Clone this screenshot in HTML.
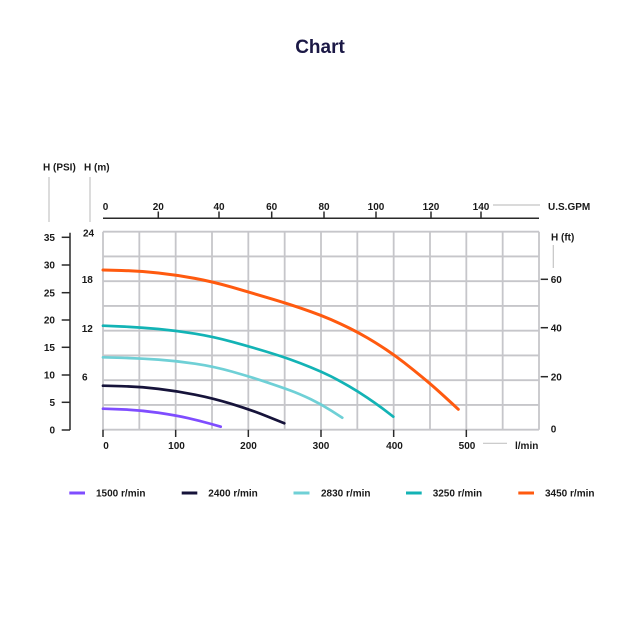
<!DOCTYPE html>
<html>
<head>
<meta charset="utf-8">
<style>
  html,body{margin:0;padding:0;background:#fff;}
  svg{display:block;}
  text{font-family:"Liberation Sans",Arial,sans-serif;font-weight:bold;fill:#1a1a1a;}
</style>
</head>
<body>
<svg width="640" height="640" viewBox="0 0 640 640" xmlns="http://www.w3.org/2000/svg">
  <rect width="640" height="640" fill="#fff"/>
  <!-- Title -->
  <text x="320" y="53" text-anchor="middle" font-size="19" style="fill:#1b1845">Chart</text>

  <!-- Axis titles -->
  <text x="43" y="170.5" font-size="10">H (PSI)</text>
  <text x="84" y="170.5" font-size="10">H (m)</text>
  <line x1="49" y1="177" x2="49" y2="222" stroke="#c4c4c4" stroke-width="1.2"/>
  <line x1="90" y1="177" x2="90" y2="222" stroke="#c4c4c4" stroke-width="1.2"/>

  <!-- Grid -->
  <g stroke="#c6c6ca" stroke-width="1.8" fill="none">
    <line x1="103" y1="231.7" x2="103" y2="429.7"/>
    <line x1="139.33" y1="231.7" x2="139.33" y2="429.7"/>
    <line x1="175.67" y1="231.7" x2="175.67" y2="429.7"/>
    <line x1="212" y1="231.7" x2="212" y2="429.7"/>
    <line x1="248.33" y1="231.7" x2="248.33" y2="429.7"/>
    <line x1="284.67" y1="231.7" x2="284.67" y2="429.7"/>
    <line x1="321" y1="231.7" x2="321" y2="429.7"/>
    <line x1="357.33" y1="231.7" x2="357.33" y2="429.7"/>
    <line x1="393.67" y1="231.7" x2="393.67" y2="429.7"/>
    <line x1="430" y1="231.7" x2="430" y2="429.7"/>
    <line x1="466.33" y1="231.7" x2="466.33" y2="429.7"/>
    <line x1="502.67" y1="231.7" x2="502.67" y2="429.7"/>
    <line x1="539" y1="231.7" x2="539" y2="429.7"/>
    <line x1="103" y1="231.7" x2="539" y2="231.7"/>
    <line x1="103" y1="256.45" x2="539" y2="256.45"/>
    <line x1="103" y1="281.2" x2="539" y2="281.2"/>
    <line x1="103" y1="305.95" x2="539" y2="305.95"/>
    <line x1="103" y1="330.7" x2="539" y2="330.7"/>
    <line x1="103" y1="355.45" x2="539" y2="355.45"/>
    <line x1="103" y1="380.2" x2="539" y2="380.2"/>
    <line x1="103" y1="404.95" x2="539" y2="404.95"/>
    <line x1="103" y1="429.7" x2="539" y2="429.7"/>
  </g>

  <!-- Top axis (U.S.GPM) -->
  <g stroke="#2a2a2a" stroke-width="1.5">
    <line x1="103" y1="218.3" x2="539" y2="218.3"/>
    <line x1="158.3" y1="218.3" x2="158.3" y2="211.5"/>
    <line x1="219" y1="218.3" x2="219" y2="211.5"/>
    <line x1="271.7" y1="218.3" x2="271.7" y2="211.5"/>
    <line x1="324" y1="218.3" x2="324" y2="211.5"/>
    <line x1="376" y1="218.3" x2="376" y2="211.5"/>
    <line x1="431" y1="218.3" x2="431" y2="211.5"/>
    <line x1="481" y1="218.3" x2="481" y2="211.5"/>
  </g>
  <g font-size="10" text-anchor="middle">
    <text x="105.5" y="210">0</text>
    <text x="158.3" y="210">20</text>
    <text x="219" y="210">40</text>
    <text x="271.7" y="210">60</text>
    <text x="324" y="210">80</text>
    <text x="376" y="210">100</text>
    <text x="431" y="210">120</text>
    <text x="481" y="210">140</text>
  </g>
  <line x1="493" y1="205" x2="540" y2="205" stroke="#c4c4c4" stroke-width="1.2"/>
  <text x="548" y="210" font-size="10">U.S.GPM</text>

  <!-- Bottom axis (l/min) -->
  <g stroke="#2a2a2a" stroke-width="1.5">
    <line x1="103" y1="429.7" x2="103" y2="437"/>
    <line x1="175.67" y1="429.7" x2="175.67" y2="437"/>
    <line x1="248.33" y1="429.7" x2="248.33" y2="437"/>
    <line x1="321" y1="429.7" x2="321" y2="437"/>
    <line x1="393.67" y1="429.7" x2="393.67" y2="437"/>
    <line x1="466.33" y1="429.7" x2="466.33" y2="437"/>
  </g>
  <g font-size="10" text-anchor="middle">
    <text x="106" y="449">0</text>
    <text x="176.5" y="449">100</text>
    <text x="248.5" y="449">200</text>
    <text x="321" y="449">300</text>
    <text x="394.5" y="449">400</text>
    <text x="467" y="449">500</text>
  </g>
  <line x1="483" y1="443.3" x2="507" y2="443.3" stroke="#c4c4c4" stroke-width="1.2"/>
  <text x="515" y="449" font-size="10">l/min</text>

  <!-- Left PSI axis -->
  <g stroke="#2a2a2a" stroke-width="1.5">
    <line x1="70" y1="232.7" x2="70" y2="430"/>
    <line x1="61.7" y1="237.3" x2="70" y2="237.3"/>
    <line x1="61.7" y1="265" x2="70" y2="265"/>
    <line x1="61.7" y1="292.7" x2="70" y2="292.7"/>
    <line x1="61.7" y1="320" x2="70" y2="320"/>
    <line x1="61.7" y1="347.3" x2="70" y2="347.3"/>
    <line x1="61.7" y1="375" x2="70" y2="375"/>
    <line x1="61.7" y1="402.3" x2="70" y2="402.3"/>
    <line x1="61.7" y1="430" x2="70" y2="430"/>
  </g>
  <g font-size="10" text-anchor="end">
    <text x="55" y="241">35</text>
    <text x="55" y="268.7">30</text>
    <text x="55" y="296.4">25</text>
    <text x="55" y="323.7">20</text>
    <text x="55" y="351">15</text>
    <text x="55" y="378.7">10</text>
    <text x="55" y="406">5</text>
    <text x="55" y="433.7">0</text>
  </g>

  <!-- H (m) labels -->
  <g font-size="10">
    <text x="83" y="236.4">24</text>
    <text x="81.7" y="283">18</text>
    <text x="81.7" y="332">12</text>
    <text x="82" y="380.4">6</text>
  </g>

  <!-- Right H(ft) axis -->
  <text x="551" y="240.4" font-size="10">H (ft)</text>
  <line x1="553.3" y1="245" x2="553.3" y2="268" stroke="#c4c4c4" stroke-width="1.2"/>
  <g stroke="#2a2a2a" stroke-width="1.5">
    <line x1="540.7" y1="279.3" x2="548" y2="279.3"/>
    <line x1="540.7" y1="327.7" x2="548" y2="327.7"/>
    <line x1="540.7" y1="376.7" x2="548" y2="376.7"/>
  </g>
  <g font-size="10">
    <text x="550.7" y="283">60</text>
    <text x="550.7" y="331.4">40</text>
    <text x="550.7" y="380.4">20</text>
    <text x="550.7" y="432.7">0</text>
  </g>

  <!-- Curves -->
  <g fill="none" stroke-linecap="round" stroke-linejoin="round">
    <path stroke="#ff5a0f" stroke-width="3"
      d="M103,270 L121.5,270.5 Q140,271 158.35,273 Q176.7,275 194.85,278.35 Q213,281.7 231.5,287.1 Q250,292.5 265,296.9 Q280,301.3 290,304.55 Q300,307.8 310.85,311.65 Q321.7,315.5 330.85,319.5 Q340,323.5 349.15,328 Q358.3,332.5 367.65,338 Q377,343.5 386,349.5 Q395,355.5 404,362.5 Q413,369.5 422.35,377.25 Q431.7,385 438.35,391 Q445,397 451.65,403.15 L458.3,409.3"/>
    <path stroke="#13b3b5" stroke-width="2.7"
      d="M103,325.7 L121.5,326.5 Q140,327.3 158.35,329 Q176.7,330.7 195,333.7 Q213.3,336.7 231.65,341.7 Q250,346.7 265,351.25 Q280,355.8 290,359.4 Q300,363 310.85,367.35 Q321.7,371.7 330.85,376.35 Q340,381 349.15,386.35 Q358.3,391.7 367.15,397.6 Q376,403.5 384.65,410.1 L393.3,416.7"/>
    <path stroke="#6fd0d6" stroke-width="2.7"
      d="M103,357.3 L121.5,357.8 Q140,358.3 158.35,359.65 Q176.7,361 195,363.65 Q213.3,366.3 231.65,371.5 Q250,376.7 265,381.7 Q280,386.7 290,390.35 Q300,394 310.85,399.25 Q321.7,404.5 332,411.1 L342.3,417.7"/>
    <path stroke="#16133a" stroke-width="2.7"
      d="M103,385.7 L121.5,386.2 Q140,386.7 158.35,388.85 Q176.7,391 195,394.65 Q213.3,398.3 231.65,403.9 Q250,409.5 267.15,416.4 L284.3,423.3"/>
    <path stroke="#7f4dff" stroke-width="2.7"
      d="M103,408.7 L121.5,409.35 Q140,410 158.35,412.75 Q176.7,415.5 188.35,418.15 Q200,420.8 210.35,423.75 L220.7,426.7"/>
  </g>

  <!-- Legend -->
  <g stroke-width="3">
    <line x1="69.3" y1="493" x2="85" y2="493" stroke="#7f4dff"/>
    <line x1="181.7" y1="493" x2="197.3" y2="493" stroke="#16133a"/>
    <line x1="293.5" y1="493" x2="309.5" y2="493" stroke="#6fd0d6"/>
    <line x1="406" y1="493" x2="421.7" y2="493" stroke="#13b3b5"/>
    <line x1="518.3" y1="493" x2="534" y2="493" stroke="#ff5a0f"/>
  </g>
  <g font-size="10">
    <text x="96" y="496.7">1500 r/min</text>
    <text x="208.3" y="496.7">2400 r/min</text>
    <text x="321" y="496.7">2830 r/min</text>
    <text x="432.7" y="496.7">3250 r/min</text>
    <text x="545" y="496.7">3450 r/min</text>
  </g>
</svg>
</body>
</html>
